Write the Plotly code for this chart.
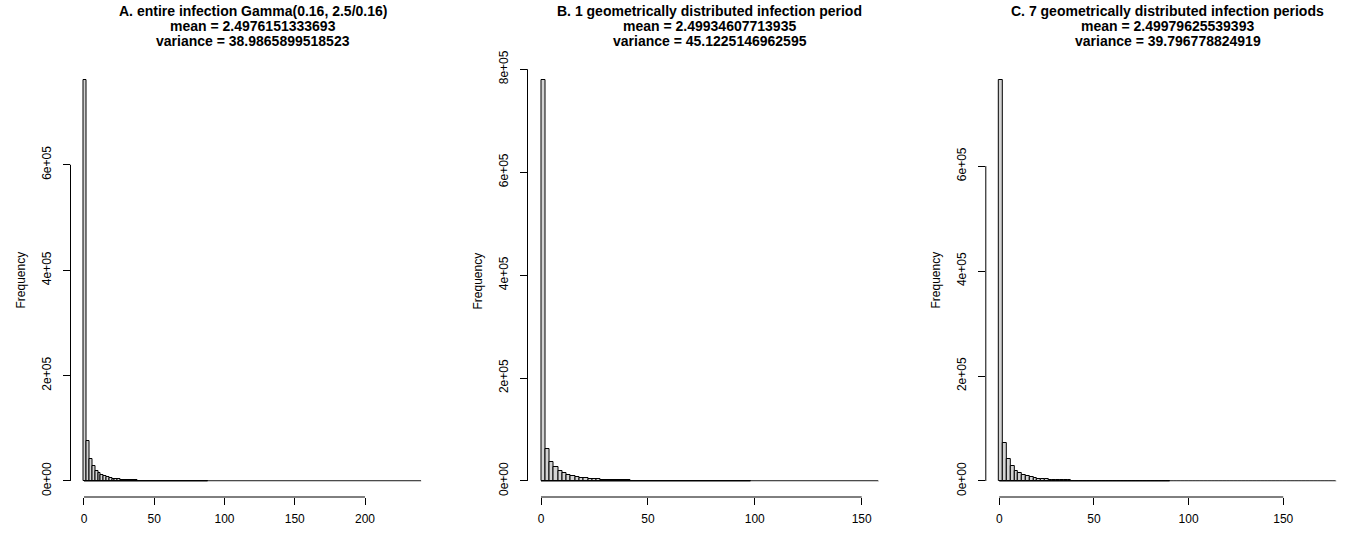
import plotly.graph_objects as go

W, H = 1348, 539
bin_width = 2

# ---- data (bin counts, bins of width 2 starting at 0) ----
a_counts = [760800, 75400, 42300, 27900, 19800, 14700, 11200, 8750, 6930, 5560,
            4490, 3660, 3000, 2470, 2050, 1700, 1420, 1190, 1000, 842,
            710, 600, 508, 431, 366, 312, 266, 226, 193, 165,
            141, 121, 104, 89, 76, 65, 56, 48, 41, 35,
            30, 26, 22, 19] + [0] * 76
b_counts = [779000, 63000, 37500, 26500, 19500, 15000, 11900, 9600, 7800, 6400,
            5300, 4400, 3700, 3100, 2600, 2200, 1870, 1590, 1360, 1160,
            990, 850, 730, 630, 540, 465, 400, 345, 298, 257,
            222, 192, 166, 144, 125, 108, 94, 81, 70, 61,
            53, 46, 40, 34, 30, 26, 22, 19, 17] + [0] * 30
c_counts = [764000, 72500, 41500, 27800, 19900, 14900, 11400, 8900, 7050, 5650,
            4560, 3720, 3050, 2510, 2080, 1730, 1440, 1210, 1015, 855,
            722, 611, 518, 440, 374, 318, 271, 231, 197, 168,
            144, 123, 105, 90, 77, 66, 57, 49, 42, 36,
            31, 27, 23, 20, 17] + [0] * 44

a_title = ["A. entire infection Gamma(0.16, 2.5/0.16)",
           "mean = 2.4976151333693",
           "variance = 38.9865899518523"]
b_title = ["B. 1 geometrically distributed infection period",
           "mean = 2.49934607713935",
           "variance = 45.1225146962595"]
c_title = ["C. 7 geometrically distributed infection periods",
           "mean = 2.49979625539393",
           "variance = 39.796778824919"]

a_xticks = [0, 50, 100, 150, 200]
b_xticks = [0, 50, 100, 150]
c_xticks = [0, 50, 100, 150]
a_yticks = [0, 200000, 400000, 600000]
b_yticks = [0, 200000, 400000, 600000, 800000]
c_yticks = [0, 200000, 400000, 600000]
a_ylabels = ["0e+00", "2e+05", "4e+05", "6e+05"]
b_ylabels = ["0e+00", "2e+05", "4e+05", "6e+05", "8e+05"]
c_ylabels = ["0e+00", "2e+05", "4e+05", "6e+05"]
ylab = "Frequency"

# ---- layout geometry (pixels) ----
panels = [
    dict(counts=a_counts, title=a_title, xt=a_xticks, yt=a_yticks, yl=a_ylabels,
         left=70.5, right=434.7, xr=[-9.6, 249.6], ylabx=20),
    dict(counts=b_counts, title=b_title, xt=b_xticks, yt=b_yticks, yl=b_ylabels,
         left=527.5, right=892.3, xr=[-6.32, 164.32], ylabx=477),
    dict(counts=c_counts, title=c_title, xt=c_xticks, yt=c_yticks, yl=c_ylabels,
         left=985.8, right=1348, xr=[-7.12, 184.2], ylabx=935),
]
plot_top, plot_bot = 64, 497
region_w = 364.2
title_y = [11, 26, 41]

FONT = "Liberation Sans, Arial, Helvetica, sans-serif"
fig = go.Figure()
shapes = []
annotations = []
layout = {}

for i, p in enumerate(panels):
    k = "" if i == 0 else str(i + 1)
    xa, ya = "x" + k, "y" + k
    counts = p["counts"]
    n = len(counts)
    mids = [bin_width * j + bin_width / 2 for j in range(n)]
    last_nz = max(j for j, c in enumerate(counts) if c > 0) + 1
    # baseline: empty bins drawn flat (grey), occupied tiny bins as dark outline
    fig.add_trace(go.Scatter(x=[last_nz * bin_width, n * bin_width], y=[0, 0], mode="lines",
                             line=dict(color="#8a8a8a", width=1),
                             xaxis=xa, yaxis=ya, showlegend=False, hoverinfo="skip"))
    fig.add_trace(go.Scatter(x=[0, last_nz * bin_width], y=[0, 0], mode="lines",
                             line=dict(color="black", width=1.3),
                             xaxis=xa, yaxis=ya, showlegend=False, hoverinfo="skip"))
    fig.add_trace(go.Bar(x=mids, y=counts, width=[bin_width] * n,
                         marker=dict(color="#D3D3D3", line=dict(color="black", width=1)),
                         xaxis=xa, yaxis=ya, showlegend=False))
    ymax = max(counts)
    dom_x = [p["left"] / W, p["right"] / W]
    dom_y = [1 - plot_bot / H, 1 - plot_top / H]
    layout["xaxis" + k] = dict(domain=dom_x, range=p["xr"], anchor=ya, automargin=False,
                               tickvals=p["xt"], ticktext=[str(v) for v in p["xt"]],
                               ticks="outside", ticklen=7, tickwidth=1, tickcolor="black",
                               showgrid=False, zeroline=False, showline=False,
                               tickfont=dict(family=FONT, size=12, color="black"),
                               ticklabelstandoff=4)
    layout["yaxis" + k] = dict(domain=dom_y, range=[-0.04 * ymax, 1.04 * ymax], anchor=xa,
                               automargin=False,
                               tickvals=p["yt"], ticktext=p["yl"], tickangle=-90,
                               ticks="outside", ticklen=7, tickwidth=1, tickcolor="black",
                               showgrid=False, zeroline=False, showline=False,
                               tickfont=dict(family=FONT, size=12, color="black"),
                               ticklabelstandoff=7)
    shapes.append(dict(type="line", xref=xa, yref=ya + " domain",
                       x0=p["xt"][0], x1=p["xt"][-1], y0=0, y1=0,
                       line=dict(color="black", width=1)))
    shapes.append(dict(type="line", xref=xa + " domain", yref=ya,
                       x0=0, x1=0, y0=p["yt"][0], y1=p["yt"][-1],
                       line=dict(color="black", width=1)))
    cx = (p["left"] + region_w / 2) / W
    for line_txt, ty in zip(p["title"], title_y):
        annotations.append(dict(text="<b>" + line_txt + "</b>", x=cx, y=1 - ty / H,
                                xref="paper", yref="paper", xanchor="center", yanchor="middle",
                                showarrow=False,
                                font=dict(family=FONT, size=14, color="black")))
    annotations.append(dict(text=ylab, x=p["ylabx"] / W, y=1 - (plot_top + plot_bot) / 2 / H,
                            xref="paper", yref="paper", xanchor="center", yanchor="middle",
                            textangle=-90, showarrow=False,
                            font=dict(family=FONT, size=12, color="black")))

fig.update_layout(width=W, height=H, margin=dict(l=0, r=0, t=0, b=0, autoexpand=False),
                  template="none",
                  paper_bgcolor="white", plot_bgcolor="white",
                  bargap=0, barmode="overlay", showlegend=False,
                  shapes=shapes, annotations=annotations, **layout)

fig.write_html("out.html", config={"responsive": False, "displayModeBar": False},
               post_script="document.body.style.margin='0';")
